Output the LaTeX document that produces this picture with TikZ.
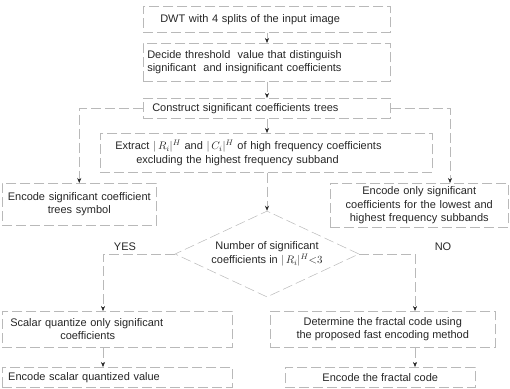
\documentclass[tikz,border=0pt]{standalone}
\usepackage{fontspec}
\setmainfont{Liberation Sans}
\usetikzlibrary{shapes.geometric,arrows.meta}
\begin{document}
\begin{tikzpicture}[x=1pt,y=-1pt,
  ln/.style={draw=gray!55, line width=0.5pt, dash pattern=on 10pt off 4pt},
  txt/.style={font=\fontsize{11}{13.5}\selectfont, text=black!85},
  box/.style={ln, txt, rectangle, inner ysep=0pt, anchor=north west},
  arr/.style={ln, -{Stealth[length=5pt,width=4pt,black!85]}}]
\path[use as bounding box] (0,0) rectangle (510,388);
% guide coordinates for connector columns
\coordinate (cx) at (267,0);
\coordinate (rx) at (450,0);
\coordinate (yx) at (103,0);
\coordinate (nx) at (415,0);
% boxes
\node[box, minimum width=247pt, minimum height=26pt, inner xsep=17pt, text width=213pt, align=left] (b1) at (143,6)
  {DWT with 4 splits of the input image};
\node[box, minimum width=247pt, minimum height=38pt, inner xsep=4pt, text width=239pt, align=left] (b2) at (143,43)
  {Decide threshold\ \ value that distinguish\\significant\ \ and insignificant coefficients};
\node[box, minimum width=247pt, minimum height=20pt, inner xsep=9pt, text width=229pt, align=left] (b3) at (143,98)
  {Construct significant coefficients trees};
\node[box, minimum width=332pt, minimum height=39pt, inner xsep=15pt, text width=302pt, align=left] (b4) at (100,133)
  {Extract $|\,R_i|^H$ and $|\,C_i|^H$ of high frequency coefficients\\\hspace*{21pt}excluding the highest frequency subband};
\node[box, minimum width=154pt, minimum height=42pt, inner xsep=2pt, text width=150pt, align=center] (lb) at (2,183)
  {Encode significant coefficient\\trees symbol};
\node[box, minimum width=178pt, minimum height=44pt, inner xsep=4pt, text width=170pt, align=center] (rb) at (330,183)
  {Encode only significant\\coefficients for the lowest and\\highest frequency subbands};
\node[ln, txt, diamond, aspect=2.14, minimum width=184pt, minimum height=86pt, inner sep=0pt, align=center] (dia) at (267,254)
  {Number of significant\\coefficients in $|\,R_i|^H{<}3$};
\node[txt] (yes) at (125,247) {YES};
\node[txt] (no) at (443,247) {NO};
\node[box, minimum width=230pt, minimum height=36pt, inner xsep=8pt, text width=214pt, align=left] (sq) at (2,311)
  {Scalar quantize only significant\\\hspace*{50pt}coefficients};
\node[box, minimum width=230pt, minimum height=20pt, inner xsep=6pt, text width=218pt, align=left] (es) at (2,367)
  {Encode scalar quantized value};
\node[box, minimum width=225pt, minimum height=36pt, align=center] (det) at (270,311)
  {Determine the fractal code using\\the proposed fast encoding method};
\node[box, minimum width=190pt, minimum height=20pt] (ef) at (285,367)
  {Encode the fractal code};
% connectors
\draw[arr] (b1.south -| cx) -- (b2.north -| cx);
\draw[arr] (b2.south -| cx) -- (b3.north -| cx);
\draw[arr] (b3.south -| cx) -- (b4.north -| cx);
\draw[arr] (b3.west) -| (lb.north);
\draw[arr] (b3.east) -| (rb.north -| rx);
\draw[arr] (b4.south -| cx) -- (dia.north);
\draw[arr] (dia.west) -| (sq.north -| yx);
\draw[arr] (dia.east) -| (det.north -| nx);
\draw[arr] (sq.south -| yx) -- (es.north -| yx);
\draw[arr] (det.south -| nx) -- (ef.north -| nx);
\end{tikzpicture}
\end{document}
